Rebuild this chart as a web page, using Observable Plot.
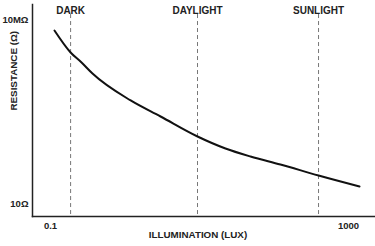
<!DOCTYPE html>
<html>
<head>
<meta charset="utf-8">
<script src="https://cdn.jsdelivr.net/npm/d3@7"></script>
<script src="https://cdn.jsdelivr.net/npm/@observablehq/plot@0.6"></script>
<style>
  html, body { margin: 0; padding: 0; background: #fff; }
  svg { display: block; }
</style>
</head>
<body>
<div id="chart"></div>
<script>
// Curve: illumination (lux) vs resistance (ohm)
const lux = [0.113, 0.186, 0.261, 0.366, 1.19, 3.0, 9.4, 22.3, 48.4, 122, 396, 1406];
const resistance = [4.38e6, 8.4e5, 3.96e5, 1.73e5, 2.29e4, 6870, 1531, 622, 341, 187, 82, 36];

// Light-level markers
const markerLux = [0.186, 9.4, 396];
const markerLabels = ["DARK", "DAYLIGHT", "SUNLIGHT"];

// Tick labels
const xTicks = [0.1, 1000];
const xTickLabels = ["0.1", "1000"];
const yTicks = [10, 1e7];
const yTickLabels = ["10Ω", "10MΩ"];

const xTitle = "ILLUMINATION (LUX)";
const yTitle = "RESISTANCE (Ω)";

const curve = lux.map((x, i) => ({x, y: resistance[i]}));
const markers = markerLux.map((x, i) => ({x, label: markerLabels[i]}));

const font = "'Liberation Sans', Arial, sans-serif";

const chart = Plot.plot({
  width: 375,
  height: 246,
  marginLeft: 32,
  marginRight: 0,
  marginTop: 4,
  marginBottom: 30,
  style: {fontFamily: font, fontWeight: "bold", fontSize: "9.5px", color: "#222", background: "#fff"},
  x: {type: "log", domain: [0.0573, 2303], axis: null},
  y: {type: "log", domain: [3.77, 3.08e7], axis: null},
  marks: [
    Plot.ruleX(markers, {x: "x", y1: 1.45e7, y2: 3.77, stroke: "#777", strokeWidth: 1, strokeDasharray: "4,3"}),
    Plot.text(markers, {x: "x", text: "label", frameAnchor: "top", dy: 2, fontSize: 10, fontWeight: "bold", fill: "#222"}),
    Plot.line(curve, {x: "x", y: "y", stroke: "#111", strokeWidth: 2, curve: "monotone-x"}),
    Plot.frame({anchor: "left", stroke: "#222", strokeWidth: 1.5}),
    Plot.frame({anchor: "bottom", stroke: "#222", strokeWidth: 1.5}),
    Plot.axisX(xTicks, {tickSize: 0, tickPadding: 6, tickFormat: (d) => xTickLabels[xTicks.indexOf(d)], label: null, fontSize: 9.5, fontWeight: "bold"}),
    Plot.axisY(yTicks, {tickSize: 0, tickPadding: 4, tickFormat: (d) => yTickLabels[yTicks.indexOf(d)], label: null, fontSize: 9.5, fontWeight: "bold"}),
    Plot.text([xTitle], {text: d => d, frameAnchor: "bottom", dy: 21, dx: -6, fontSize: 9.8, fontWeight: "bold", fill: "#222"}),
    Plot.text([yTitle], {text: d => d, frameAnchor: "left", dx: -19, rotate: -90, fontSize: 9.8, fontWeight: "bold", fill: "#222"})
  ]
});
document.getElementById("chart").appendChild(chart);
</script>
</body>
</html>
